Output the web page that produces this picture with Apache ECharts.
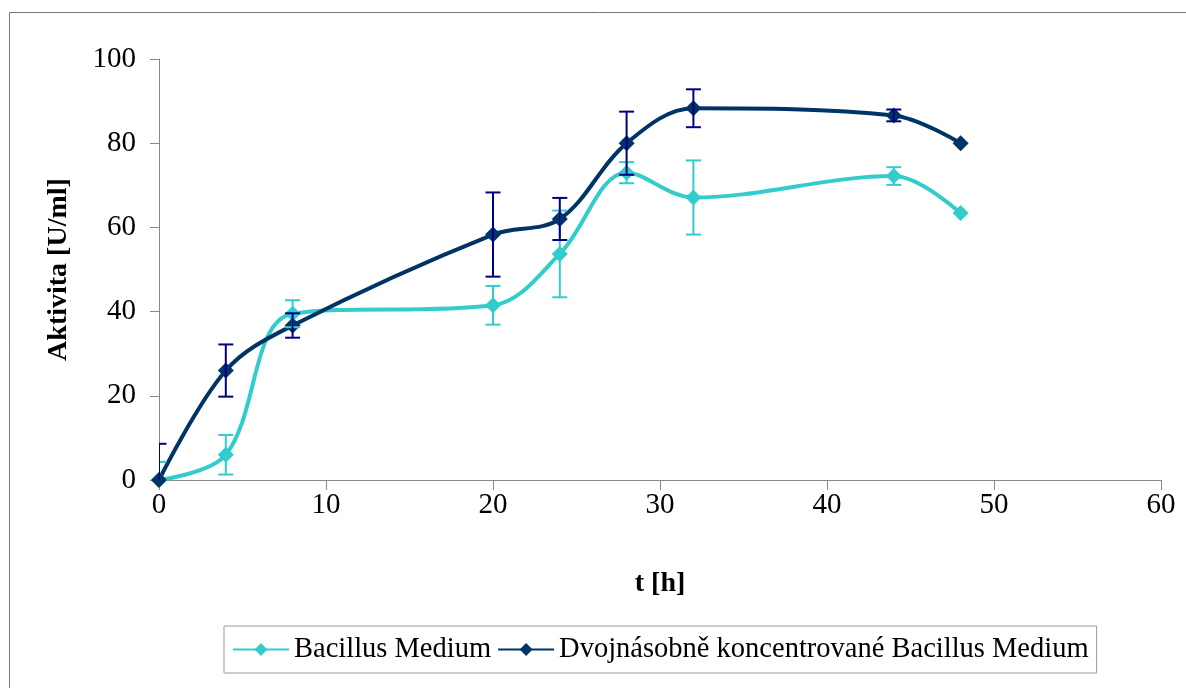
<!DOCTYPE html>
<html>
<head>
<meta charset="utf-8">
<script src="https://cdn.jsdelivr.net/npm/echarts@6/dist/echarts.min.js"></script>
<style>
  html, body { margin: 0; padding: 0; background: #fff; }
  #chart { width: 1186px; height: 688px; }
</style>
</head>
<body>
<!-- graf aktivity -->
<div id="chart"></div>
<script>
var casy = [0, 4, 8, 20, 24, 28, 32, 44, 48]
var bacillus = [0, 6, 39.5, 41.5, 53.7, 73, 67.1, 72.2, 63.4]
var bacillusErr = [4.3, 4.7, 3.2, 4.6, 10.3, 2.5, 8.8, 2.1, 0]
var dvojnasobne = [0, 26, 36.7, 58.3, 62, 80, 88.3, 86.6, 80]
var dvojnasobneErr = [8.6, 6.2, 2.9, 10, 5, 7.5, 4.5, 1.4, 0]
var nazvy = ['Bacillus Medium', 'Dvojnásobně koncentrované Bacillus Medium']

var font = '"Liberation Serif", "Times New Roman", serif'
var cyan = '#33CCCC'
var navy = '#003366'

function pary (vals) {
  return casy.map(function (t, i) { return [t, vals[i]] })
}
function chyby (vals, errs) {
  return casy.map(function (t, i) { return [t, vals[i] - errs[i], vals[i] + errs[i]] })
    .filter(function (d, i) { return errs[i] > 0 })
}
function errorBar (color) {
  return function (params, api) {
    var x = api.value(0)
    var lo = api.coord([x, api.value(1)])
    var hi = api.coord([x, api.value(2)])
    var w = 7.5
    var style = { stroke: color, lineWidth: 2 }
    return {
      type: 'group',
      children: [
        { type: 'line', shape: { x1: hi[0], y1: hi[1], x2: lo[0], y2: lo[1] }, style: style },
        { type: 'line', shape: { x1: hi[0] - w, y1: hi[1], x2: hi[0] + w, y2: hi[1] }, style: style },
        { type: 'line', shape: { x1: lo[0] - w, y1: lo[1], x2: lo[0] + w, y2: lo[1] }, style: style }
      ]
    }
  }
}

var charts = echarts.init(document.getElementById('chart'))
var options = {
  animation: false,
  textStyle: { fontFamily: font },
  graphic: [{
    type: 'rect',
    shape: { x: 9.5, y: 12.5, width: 1190, height: 700 },
    style: { fill: 'none', stroke: '#777', lineWidth: 1 },
    silent: true
  }],
  grid: { left: 159, right: 25, top: 59, bottom: 208 },
  legend: {
    bottom: 15,
    left: 224,
    padding: [9, 8, 9, 8],
    borderColor: '#999',
    borderWidth: 1,
    itemWidth: 56,
    itemHeight: 16,
    itemGap: 6,
    data: nazvy,
    textStyle: { fontFamily: font, fontSize: 28.5, color: '#000' }
  },
  xAxis: {
    type: 'value',
    min: 0,
    max: 60,
    interval: 10,
    name: 't [h]',
    nameLocation: 'middle',
    nameGap: 90,
    nameTextStyle: { fontFamily: font, fontSize: 28, fontWeight: 'bold', color: '#000' },
    axisLine: { show: true, lineStyle: { color: '#888', width: 1 } },
    axisTick: { show: true, length: 10, lineStyle: { color: '#888' } },
    axisLabel: { color: '#000', fontSize: 29, fontFamily: font, margin: 11 },
    splitLine: { show: false }
  },
  yAxis: {
    type: 'value',
    min: 0,
    max: 100,
    interval: 20,
    name: 'Aktivita [U/ml]',
    nameLocation: 'middle',
    nameGap: 86,
    nameTextStyle: { fontFamily: font, fontSize: 28, fontWeight: 'bold', color: '#000' },
    axisLine: { show: true, lineStyle: { color: '#888', width: 1 } },
    axisTick: { show: true, length: 9, lineStyle: { color: '#888' } },
    axisLabel: { color: '#000', fontSize: 29, fontFamily: font, margin: 23 },
    splitLine: { show: false }
  },
  series: [{
    name: nazvy[0],
    type: 'line',
    smooth: 0.35,
    data: pary(bacillus),
    symbol: 'diamond',
    symbolSize: 16,
    lineStyle: { color: cyan, width: 4 },
    itemStyle: { color: cyan },
    z: 3
  }, {
    name: nazvy[1],
    type: 'line',
    smooth: 0.35,
    data: pary(dvojnasobne),
    symbol: 'diamond',
    symbolSize: 16,
    lineStyle: { color: navy, width: 4 },
    itemStyle: { color: navy },
    z: 3
  }, {
    type: 'custom',
    renderItem: errorBar(cyan),
    data: chyby(bacillus, bacillusErr),
    encode: { x: 0, y: [1, 2] },
    clip: true,
    silent: true,
    z: 4
  }, {
    type: 'custom',
    renderItem: errorBar('#000080'),
    data: chyby(dvojnasobne, dvojnasobneErr),
    encode: { x: 0, y: [1, 2] },
    clip: true,
    silent: true,
    z: 4
  }]
}
charts.setOption(options)
</script>
</body>
</html>
